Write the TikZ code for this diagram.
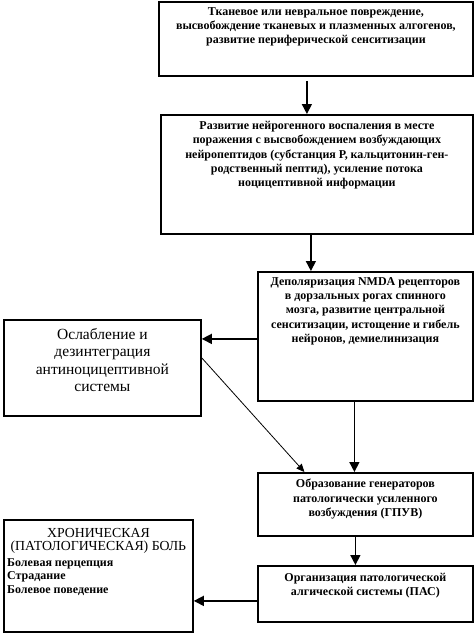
\documentclass[tikz,border=0pt]{standalone}
\usepackage{fontspec}
\setmainfont{Liberation Serif}
\usetikzlibrary{arrows.meta}
\usetikzlibrary{positioning}

\begin{document}
\begin{tikzpicture}[x=1pt,y=-1pt,
    box/.style={draw,line width=1.8pt,rectangle,inner sep=0pt,anchor=north west},
    txt/.style={anchor=north,align=center,inner sep=0pt,font=\bfseries\fontsize{12}{14.3}\selectfont},
    arr/.style={-{Triangle[width=10pt,length=10pt]},line width=1.5pt}]
  \useasboundingbox (0,0) rectangle (474,633);

  % boxes
  \node[box,minimum width=314pt,minimum height=74pt] (b1) at (158,1) {};
  \node[box,minimum width=312pt,minimum height=119pt] (b2) at (160,114) {};
  \node[box,minimum width=215pt,minimum height=129pt] (b3) at (257,271) {};
  \node[box,minimum width=197pt,minimum height=96pt] (b4) at (3,319) {};
  \node[box,minimum width=215pt,minimum height=63pt] (b5) at (257,472) {};
  \node[box,minimum width=215pt,minimum height=56pt] (b6) at (257,565) {};
  \node[box,minimum width=189pt,minimum height=112pt] (b7) at (3,519) {};

  % texts
  \node[txt,below=6pt of b1.north] (t1) {Тканевое или невральное повреждение,\\
    высвобождение тканевых и плазменных алгогенов,\\
    развитие периферической сенситизации};
  \node[txt,below=7pt of b2.north] (t2) {Развитие нейрогенного воспаления в месте\\
    поражения с высвобождением возбуждающих\\
    нейропептидов (субстанция Р, кальцитонин-ген-\\
    родственный пептид), усиление потока\\
    ноцицептивной информации};
  \node[txt,below=6pt of b3.north] (t3) {Деполяризация NMDA рецепторов\\
    в дорзальных рогах спинного\\
    мозга, развитие центральной\\
    сенситизации, истощение и гибель\\
    нейронов, демиелинизация};
  \node[txt,below=9pt of b4.north,font=\fontsize{15.5}{17.5}\selectfont] (t4) {Ослабление и\\
    дезинтеграция\\
    антиноцицептивной\\
    системы};
  \node[txt,below=7pt of b5.north] (t5) {Образование генераторов\\
    патологически усиленного\\
    возбуждения (ГПУВ)};
  \node[txt,below=8pt of b6.north] (t6) {Организация патологической\\
    алгической системы (ПАС)};
  \node[txt,below=9pt of b7.north,font=\fontsize{13.8}{13.5}\selectfont] (t7) {ХРОНИЧЕСКАЯ\\
    (ПАТОЛОГИЧЕСКАЯ) БОЛЬ};
  \node[txt,anchor=north west,align=left,below right=4pt and 4pt of t7.south -| b7.west,font=\bfseries\fontsize{12}{13.5}\selectfont] (t8) {Болевая перцепция\\
    Страдание\\
    Болевое поведение};

  % arrows
  \draw[arr] ([xshift=-9pt,yshift=-4pt]b1.south) -- ([xshift=-9pt]b1.south |- b2.north);
  \draw[arr] ([xshift=-6pt]b2.south) -- ([xshift=-6pt]b2.south |- b3.north);
  \draw[arr] ([yshift=-2.5pt]b3.west) -- ([yshift=-2.5pt]b3.west -| b4.east);
  \draw[-{Triangle[width=7pt,length=8pt]},line width=0.8pt] ([yshift=10pt]b4.east) -- ([xshift=-61pt]b5.north);
  \draw[arr] ([xshift=-11pt]b3.south) -- ([xshift=-11pt]b3.south |- b5.north);
  \draw[arr] ([xshift=-10pt]b5.south) -- ([xshift=-10pt]b5.south |- b6.north);
  \draw[arr] ([yshift=-7pt]b6.west) -- ([yshift=-7pt]b6.west -| b7.east);
\end{tikzpicture}
\end{document}
